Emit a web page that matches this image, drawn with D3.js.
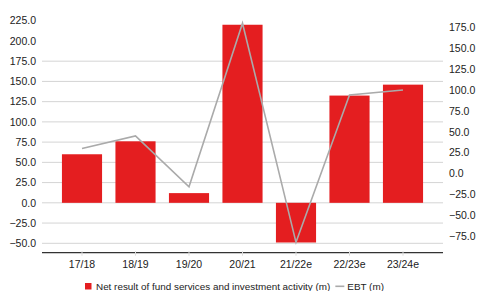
<!DOCTYPE html>
<html><head><meta charset="utf-8">
<script src="https://cdn.jsdelivr.net/npm/d3@7"></script>
<style>
html,body{margin:0;padding:0;background:#fff;}
svg{display:block;font-family:"Liberation Sans",Arial,sans-serif;}
</style></head>
<body><svg id="c" width="478" height="291"></svg>
<script>
const categories = ["17/18","18/19","19/20","20/21","21/22e","22/23e","23/24e"];
const netResult = [60, 76, 12, 220, -49, 132.5, 146];
const ebt = [30, 45, -16, 180, -82.5, 94, 100];
const leftTicks = [225, 200, 175, 150, 125, 100, 75, 50, 25, 0, -25, -50];
const gridTicks = [175, 150, 125, 100, 75, 50, 25, 0, -25, -50];
const rightTicks = [175, 150, 125, 100, 75, 50, 25, 0, -25, -50, -75];
const seriesNames = ["Net result of fund services and investment activity (m)", "EBT (m)"];

const svg = d3.select("#c");
const plotL = 42, plotR = 443, plotB = 252.7;
const x = d3.scaleBand().domain(categories).range([55.25, 429.75]).paddingInner(0.25).paddingOuter(0.125);
const yL = d3.scaleLinear().domain([-50, 225]).range([243.3, 20.7]);
const yR = d3.scaleLinear().domain([-75, 175]).range([236.1, 27.4]);
const fs = 10.5;

// gridlines
svg.append("g").selectAll("line").data(gridTicks).join("line")
  .attr("x1", plotL).attr("x2", plotR)
  .attr("y1", d => yL(d)).attr("y2", d => yL(d))
  .attr("stroke", "#d4d4d4").attr("stroke-width", 1);

// left axis labels
svg.append("g").selectAll("text").data(leftTicks).join("text")
  .attr("x", 36).attr("y", d => yL(d)).attr("dy", "0.36em")
  .attr("text-anchor", "end").attr("font-size", fs).attr("fill", "#222")
  .text(d => d3.format(".1f")(d));

// right axis labels
svg.append("g").selectAll("text").data(rightTicks).join("text")
  .attr("x", 449).attr("y", d => yR(d)).attr("dy", "0.36em")
  .attr("text-anchor", "start").attr("font-size", fs).attr("fill", "#222")
  .text(d => d3.format(".1f")(d));

// bars
svg.append("g").selectAll("rect").data(netResult).join("rect")
  .attr("x", (d, i) => x(categories[i]))
  .attr("width", x.bandwidth())
  .attr("y", d => Math.min(yL(d), yL(0)))
  .attr("height", d => Math.abs(yL(d) - yL(0)))
  .attr("fill", "#e41e20");

// x axis line
svg.append("line").attr("x1", plotL).attr("x2", plotR)
  .attr("y1", plotB).attr("y2", plotB).attr("stroke", "#333").attr("stroke-width", 1.3);
svg.append("g").selectAll("line").data(categories).join("line")
  .attr("x1", d => x(d) + x.bandwidth()/2).attr("x2", d => x(d) + x.bandwidth()/2)
  .attr("y1", plotB - 1.5).attr("y2", plotB + 3)
  .attr("stroke", "#ddd").attr("stroke-width", 1);

// x labels
svg.append("g").selectAll("text").data(categories).join("text")
  .attr("x", d => x(d) + x.bandwidth()/2).attr("y", 264.5).attr("dy", "0.36em")
  .attr("text-anchor", "middle").attr("font-size", fs).attr("fill", "#222")
  .text(d => d);

// EBT line
const line = d3.line().x((d, i) => x(categories[i]) + x.bandwidth()/2).y(d => yR(d));
svg.append("path").datum(ebt).attr("d", line)
  .attr("fill", "none").attr("stroke", "#aaaaaa").attr("stroke-width", 1.6);

// legend
const lfs = 9.9;
const lg = svg.append("g");
lg.append("rect").attr("x", 85).attr("y", 283).attr("width", 6.5).attr("height", 6.5).attr("fill", "#e41e20");
const t1 = lg.append("text").attr("x", 96).attr("y", 286.3).attr("dy", "0.36em")
  .attr("font-size", lfs).attr("fill", "#222").text(seriesNames[0]);
const w1 = t1.node().getComputedTextLength();
const lx = 96 + w1 + 5;
lg.append("line").attr("x1", lx).attr("x2", lx + 9).attr("y1", 286.3).attr("y2", 286.3)
  .attr("stroke", "#aaaaaa").attr("stroke-width", 1.6);
lg.append("text").attr("x", lx + 12).attr("y", 286.3).attr("dy", "0.36em")
  .attr("font-size", lfs).attr("fill", "#222").text(seriesNames[1]);
</script></body></html>
